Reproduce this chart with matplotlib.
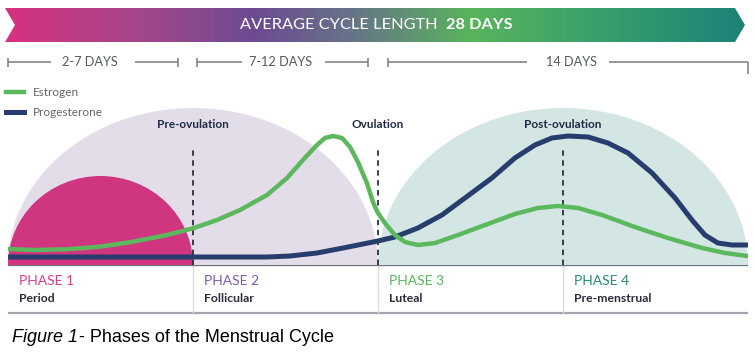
import numpy as np
import matplotlib
matplotlib.use('Agg')
import matplotlib.pyplot as plt
from matplotlib.patches import Ellipse, Polygon
from matplotlib.colors import LinearSegmentedColormap

# hormone curves: day of the 28 day cycle vs relative level
estrogen_day = [0.00, 0.95, 2.23, 3.48, 4.73, 6.02, 7.00, 7.91, 8.78, 9.80, 10.56,
                11.16, 11.69, 11.99, 12.30, 12.64, 12.94, 13.24, 13.58, 13.81,
                13.89, 14.00, 14.26, 14.64, 15.02, 15.51, 16.16, 17.03, 18.05,
                19.18, 20.05, 20.81, 21.57, 22.48, 23.72, 24.97, 26.26, 27.13, 27.96]
estrogen_lvl = [16, 15, 15.7, 18.3, 23.3, 30, 36.7, 45, 55, 70, 87,
                105, 120, 127, 129, 127, 118, 103, 82, 63,
                58, 52, 42, 30, 23, 20, 22, 30, 40,
                51, 57, 59, 57, 50, 38, 27, 17, 12, 9]
prog_day = [0, 9.80, 10.67, 11.69, 12.68, 14.00, 14.64, 15.51, 16.42, 17.29,
            18.31, 19.18, 19.94, 20.58, 21.19, 21.95, 22.70, 23.46, 24.37,
            25.24, 25.88, 26.37, 26.86, 27.39, 27.96]
prog_lvl = [8, 8, 9, 12, 17, 24, 28, 37, 50, 67,
            87, 107, 120, 127, 129, 128, 122, 112, 92,
            67, 45, 30, 22, 20, 20]

phase_start = [0, 7, 14, 21]
phase_names = ['PHASE 1', 'PHASE 2', 'PHASE 3', 'PHASE 4']
phase_sub = ['Period', 'Follicular', 'Luteal', 'Pre-menstrual']
phase_colors = ['#d6408a', '#7b5ea7', '#5cb85c', '#2a8a78']
marker_day = [7, 14, 21]
marker_names = ['Pre-ovulation', 'Ovulation', 'Post-ovulation']
range_labels = ['2-7 DAYS', '7-12 DAYS', '14 DAYS']

W, H = 755, 362
fig = plt.figure(figsize=(W / 100, H / 100), dpi=100)
fig.patch.set_facecolor('white')

# background axes in pixel units for banner, text rows and rules
bg = fig.add_axes([0, 0, 1, 1])
bg.set_xlim(0, W)
bg.set_ylim(H, 0)
bg.axis('off')

# chart axes: x in days, y in level units above the baseline
x0, x1, ybase, ytop = 8, 748, 265, 100
ax = fig.add_axes([x0 / W, (H - ybase) / H, (x1 - x0) / W, (ybase - ytop) / H])
ax.set_xlim(0, 28)
ax.set_ylim(0, ybase - ytop)
ax.axis('off')
ax.patch.set_alpha(0)

def px(day):
    return x0 + day * (x1 - x0) / 28.0

# domes
ax.add_patch(Ellipse((7, 0), 14, 2 * 157, color='#e3dde9', lw=0))
ax.add_patch(Ellipse((21, 0), 14, 2 * 157, color='#d4e6e3', lw=0))
ax.add_patch(Ellipse((3.5, 0), 7, 2 * 89, color='#d0367f', lw=0))

ax.vlines(marker_day, 0, 117, colors='#2b2f3a', lw=1.3, linestyles=(0, (3, 2.5)))
for d, name in zip(marker_day, marker_names):
    ax.text(d, 141, name, ha='center', va='center', fontsize=8.5,
            fontweight='bold', color='#1f2a44', family='Lato')

prog_line, = ax.plot(prog_day, prog_lvl, color='#263d6e', lw=3.6,
                     solid_joinstyle='round')
est_line, = ax.plot(estrogen_day, estrogen_lvl, color='#5cb85c', lw=3.2,
                    solid_joinstyle='round')

fig.legend([est_line, prog_line], ['Estrogen', 'Progesterone'], loc='upper left',
           bbox_to_anchor=(6 / W, 1 - 87 / H), frameon=False,
           handlelength=1.5, handletextpad=0.8, labelspacing=0.75,
           borderaxespad=0, borderpad=0, labelcolor='#666666',
           prop={'family': 'Lato', 'size': 8.5})

# banner
cmap = LinearSegmentedColormap.from_list('cycle', [
    (0.0, '#d8317f'), (0.18, '#a4468b'), (0.34, '#6d4b92'), (0.47, '#677488'),
    (0.63, '#58b45c'), (0.8, '#3aa06c'), (1.0, '#1d8277')])
grad = np.linspace(0, 1, 512).reshape(1, -1)
im = bg.imshow(grad, extent=(5, 745, 42, 8), cmap=cmap, aspect='auto',
               interpolation='bilinear')
banner = Polygon([(5, 8), (735, 8), (745, 25), (735, 42), (5, 42), (15, 25)],
                 closed=True, fc='none', ec='none', transform=bg.transData)
bg.add_patch(banner)
im.set_clip_path(banner)
bg.set_xlim(0, W)
bg.set_ylim(H, 0)
bg.text(438, 25, 'AVERAGE CYCLE LENGTH', ha='right', va='center', color='white',
        fontsize=11.8, family='Lato')
bg.text(446, 25, '28 DAYS', ha='left', va='center', color='white',
        fontsize=11.8, family='Lato', fontweight='bold')

# day ranges row
range_spans = [(8, 178), (197, 368), (388, 748)]
range_text_x = [90, 281, 571]
range_gap = [(51, 135), (242, 325), (527, 609)]
for (a, b), tx, (g0, g1), lab in zip(range_spans, range_text_x, range_gap, range_labels):
    bg.hlines(62, a, g0, color='#777b80', lw=1.1)
    bg.hlines(62, g1, b, color='#777b80', lw=1.1)
    bg.text(tx, 62, lab, ha='center', va='center', fontsize=9.2, color='#555a60',
            family='Lato')
for a, b in range_spans[:2]:
    bg.vlines([a, b], 58, 67, color='#777b80', lw=1.1)
bg.vlines(388, 58, 67, color='#777b80', lw=1.1)
bg.vlines(748, 62, 74, color='#777b80', lw=1.1)

# phase table
bg.hlines(ybase, x0, x1, color='#6c7079', lw=1.6, zorder=5)
bg.hlines(313, x0, x1, color='#a3a7ad', lw=1.6)
bg.vlines([px(d) for d in phase_start[1:]], ybase, 313, color='#dcdcdc', lw=1)
for d, name, sub, c in zip(phase_start, phase_names, phase_sub, phase_colors):
    bg.text(px(d) + 11, 281, name, ha='left', va='center', fontsize=10, color=c,
            family='Lato')
    bg.text(px(d) + 11, 298, sub, ha='left', va='center', fontsize=8.8,
            color='#2b2b3b', family='Lato', fontweight='bold')

# caption
r = fig.canvas.get_renderer()
t1 = bg.text(12, 337, 'Figure 1', ha='left', va='center', fontsize=13,
             style='italic', family='Liberation Sans')
bb = t1.get_window_extent(renderer=r)
bg.text(12 + bb.width + 1, 337, '- Phases of the Menstrual Cycle', ha='left',
        va='center', fontsize=13, family='Liberation Sans')

fig.savefig('out.png', dpi=100)
